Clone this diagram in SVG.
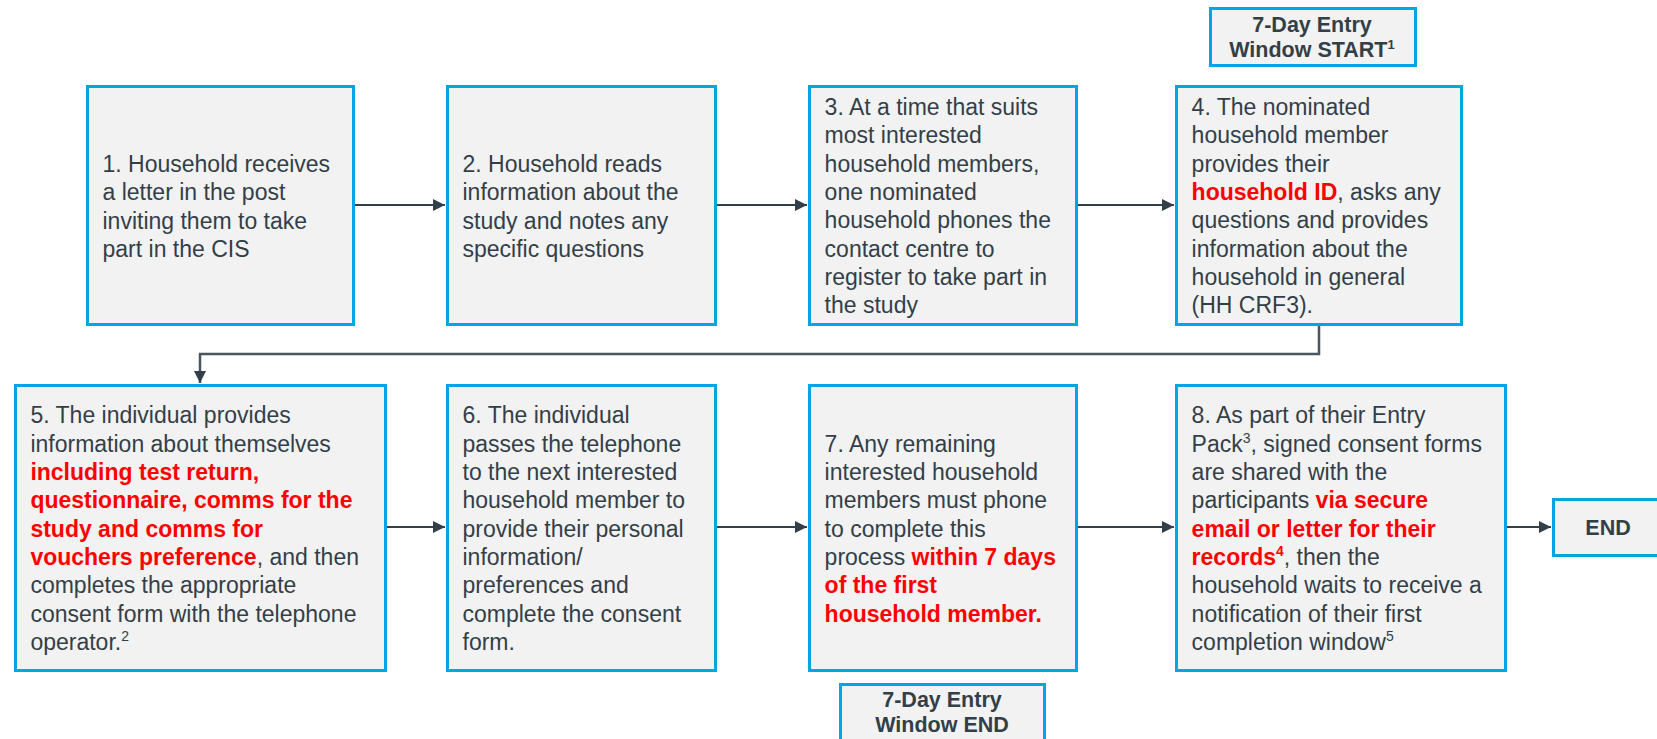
<svg xmlns="http://www.w3.org/2000/svg" width="1657" height="739" viewBox="0 0 1657 739">
<defs>
<style>
.box{fill:#f2f2f2;stroke:#00a6e2;stroke-width:3}
.t{font-family:"Liberation Sans",Arial,sans-serif;font-size:23px;fill:#333f48}
.b{font-family:"Liberation Sans",Arial,sans-serif;font-size:21.5px;font-weight:bold;fill:#333f48;text-anchor:middle}
.r{fill:#ff0000;font-weight:bold}
.ln{fill:none;stroke:#333f48;stroke-width:2}
.ln2{fill:none;stroke:#4a555c;stroke-width:2.5}
</style>
<marker id="ah" markerUnits="userSpaceOnUse" markerWidth="13" markerHeight="12" refX="12" refY="6" orient="auto">
<path d="M0,0 L12,6 L0,12 z" fill="#333f48"/>
</marker>
</defs>
<g id="connectors">
<path class="ln" d="M355,205 H445" marker-end="url(#ah)"/>
<path class="ln" d="M717,205 H807" marker-end="url(#ah)"/>
<path class="ln" d="M1078,205 H1174" marker-end="url(#ah)"/>
<path class="ln2" d="M1319,326 V354 H200 V383" marker-end="url(#ah)"/>
<path class="ln" d="M387,527 H445" marker-end="url(#ah)"/>
<path class="ln" d="M717,527 H807" marker-end="url(#ah)"/>
<path class="ln" d="M1078,527 H1174" marker-end="url(#ah)"/>
<path class="ln" d="M1507,527 H1551" marker-end="url(#ah)"/>
</g>
<g id="start-window">
<rect class="box" x="1210.5" y="8.5" width="205" height="57"/>
<text class="b" x="1312" y="32.3">7-Day Entry</text>
<text class="b" x="1312" y="57.3">Window START<tspan font-size="13" dy="-8">1</tspan></text>
</g>
<g id="node1">
<rect class="box" x="87.5" y="86.5" width="266" height="238"/>
<text class="t" x="102.5" y="172">
<tspan x="102.5" y="172">1. Household receives</tspan>
<tspan x="102.5" y="200.3">a letter in the post</tspan>
<tspan x="102.5" y="228.7">inviting them to take</tspan>
<tspan x="102.5" y="257">part in the CIS</tspan>
</text>
</g>
<g id="node2">
<rect class="box" x="447.5" y="86.5" width="268" height="238"/>
<text class="t">
<tspan x="462.5" y="172">2. Household reads</tspan>
<tspan x="462.5" y="200.3">information about the</tspan>
<tspan x="462.5" y="228.7">study and notes any</tspan>
<tspan x="462.5" y="257">specific questions</tspan>
</text>
</g>
<g id="node3">
<rect class="box" x="809.5" y="86.5" width="267" height="238"/>
<text class="t">
<tspan x="824.6" y="115">3. At a time that suits</tspan>
<tspan x="824.6" y="143.3">most interested</tspan>
<tspan x="824.6" y="171.7">household members,</tspan>
<tspan x="824.6" y="200">one nominated</tspan>
<tspan x="824.6" y="228.3">household phones the</tspan>
<tspan x="824.6" y="256.7">contact centre to</tspan>
<tspan x="824.6" y="285">register to take part in</tspan>
<tspan x="824.6" y="313.3">the study</tspan>
</text>
</g>
<g id="node4">
<rect class="box" x="1176.5" y="86.5" width="285" height="238"/>
<text class="t">
<tspan x="1191.6" y="115">4. The nominated</tspan>
<tspan x="1191.6" y="143.3">household member</tspan>
<tspan x="1191.6" y="171.7">provides their</tspan>
<tspan x="1191.6" y="200"><tspan class="r">household ID</tspan>, asks any</tspan>
<tspan x="1191.6" y="228.3">questions and provides</tspan>
<tspan x="1191.6" y="256.7">information about the</tspan>
<tspan x="1191.6" y="285">household in general</tspan>
<tspan x="1191.6" y="313.3">(HH CRF3).</tspan>
</text>
</g>
<g id="node5">
<rect class="box" x="15.5" y="385.5" width="370" height="285"/>
<text class="t">
<tspan x="30.4" y="423.3">5. The individual  provides</tspan>
<tspan x="30.4" y="451.7">information about themselves</tspan>
<tspan x="30.4" y="480" class="r">including test return,</tspan>
<tspan x="30.4" y="508.3" class="r">questionnaire, comms for the</tspan>
<tspan x="30.4" y="536.7" class="r">study and comms for</tspan>
<tspan x="30.4" y="565"><tspan class="r">vouchers preference</tspan>, and then</tspan>
<tspan x="30.4" y="593.3">completes the appropriate</tspan>
<tspan x="30.4" y="621.7">consent form with the telephone</tspan>
<tspan x="30.4" y="650">operator.<tspan font-size="14" dy="-9">2</tspan></tspan>
</text>
</g>
<g id="node6">
<rect class="box" x="447.5" y="385.5" width="268" height="285"/>
<text class="t">
<tspan x="462.5" y="423.3">6. The individual</tspan>
<tspan x="462.5" y="451.7">passes the telephone</tspan>
<tspan x="462.5" y="480">to the next interested</tspan>
<tspan x="462.5" y="508.3">household member to</tspan>
<tspan x="462.5" y="536.7">provide their personal</tspan>
<tspan x="462.5" y="565">information/</tspan>
<tspan x="462.5" y="593.3">preferences and</tspan>
<tspan x="462.5" y="621.7">complete the consent</tspan>
<tspan x="462.5" y="650">form.</tspan>
</text>
</g>
<g id="node7">
<rect class="box" x="809.5" y="385.5" width="267" height="285"/>
<text class="t">
<tspan x="824.6" y="451.7">7. Any remaining</tspan>
<tspan x="824.6" y="480">interested household</tspan>
<tspan x="824.6" y="508.3">members must phone</tspan>
<tspan x="824.6" y="536.7">to complete this</tspan>
<tspan x="824.6" y="565">process <tspan class="r">within 7 days</tspan></tspan>
<tspan x="824.6" y="593.3" class="r">of the first</tspan>
<tspan x="824.6" y="621.7" class="r">household member.</tspan>
</text>
</g>
<g id="node8">
<rect class="box" x="1176.5" y="385.5" width="329" height="285"/>
<text class="t">
<tspan x="1191.6" y="423.3">8. As part of their Entry</tspan>
<tspan x="1191.6" y="451.7">Pack<tspan font-size="14" dy="-9">3</tspan><tspan dy="9">, signed consent forms</tspan></tspan>
<tspan x="1191.6" y="480">are shared with the</tspan>
<tspan x="1191.6" y="508.3">participants <tspan class="r">via secure</tspan></tspan>
<tspan x="1191.6" y="536.7" class="r">email or letter for their</tspan>
<tspan x="1191.6" y="565"><tspan class="r">records<tspan font-size="14" dy="-9">4</tspan></tspan><tspan dy="9">, then the</tspan></tspan>
<tspan x="1191.6" y="593.3">household waits to receive a</tspan>
<tspan x="1191.6" y="621.7">notification of their first</tspan>
<tspan x="1191.6" y="650">completion window<tspan font-size="14" dy="-9">5</tspan></tspan>
</text>
</g>
<g id="end">
<rect class="box" x="1553.5" y="499.5" width="115" height="56"/>
<text class="b" x="1608" y="534.5" font-size="21">END</text>
</g>
<g id="end-window">
<rect class="box" x="840.5" y="684.5" width="204" height="70"/>
<text class="b" x="942" y="706.7">7-Day Entry</text>
<text class="b" x="942" y="731.7">Window END</text>
</g>
</svg>
